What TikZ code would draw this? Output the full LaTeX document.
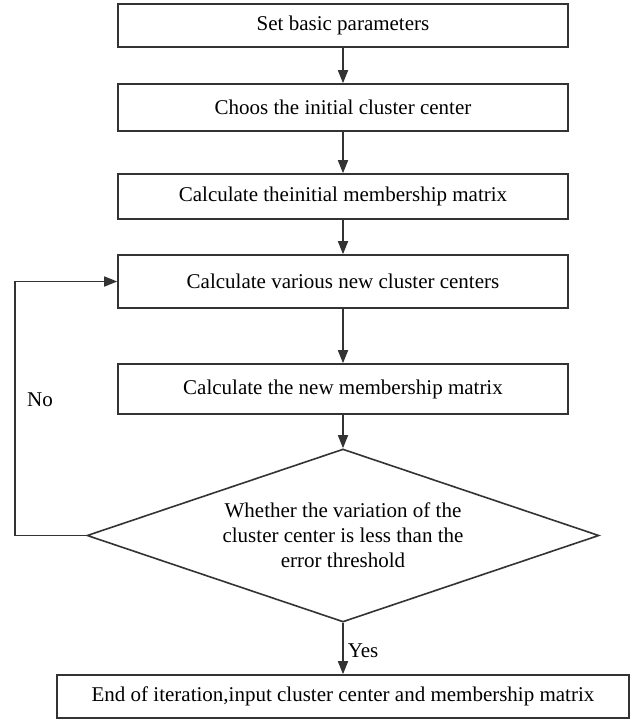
\documentclass[tikz,border=0pt]{standalone}
\usepackage{fontspec}
\setmainfont{Liberation Serif}
\usepackage{tikz}
\usetikzlibrary{positioning,arrows.meta,shapes.geometric}

\begin{document}
\begin{tikzpicture}[x=0.5pt, y=-0.5pt, font=\fontsize{10.5}{12.5}\selectfont,
  box/.style={draw=black!80, line width=0.8pt, align=center, inner sep=2pt,
              minimum width=225pt},
  decide/.style={draw=black!80, line width=0.8pt, diamond, aspect=3, align=center,
                 inner sep=0pt, minimum width=256pt, minimum height=86.5pt},
  arr/.style={-{Triangle[length=6.5pt, width=5pt]}, line width=0.8pt, draw=black!80}]
\useasboundingbox (0,0) rectangle (632,720);
\node[box, minimum height=21.5pt] (par) at (343,25.5) {Set basic parameters};
\node[box, minimum height=23.5pt] (init) at (343,107.5) {Choos the initial cluster center};
\node[box, minimum height=22.5pt] (mat0) at (343,196.5) {Calculate theinitial membership matrix};
\node[box, minimum height=26.5pt] (cent) at (343,281.5) {Calculate various new cluster centers};
\node[box, minimum height=25pt] (mat) at (343,389) {Calculate the new membership matrix};
\node[decide] (dec) at (343,535.5) {Whether the variation of the\\cluster center is less than the\\error threshold};
\node[box, minimum width=286pt, minimum height=21.5pt] (fin) at (343,696.5) {End of iteration,input cluster center and membership matrix};
\node (no) at (40,400) {No};
\draw[arr] (par) -- (init);
\draw[arr] (init) -- (mat0);
\draw[arr] (mat0) -- (cent);
\draw[arr] (cent) -- (mat);
\draw[arr] (mat) -- (dec);
\draw[arr] (dec.south) -- node[right, pos=0.55, inner sep=2pt] (yes) {Yes} (fin);
\draw[arr] (dec.west) -- ++(-71,0) |- (cent.west);
\end{tikzpicture}
\end{document}
